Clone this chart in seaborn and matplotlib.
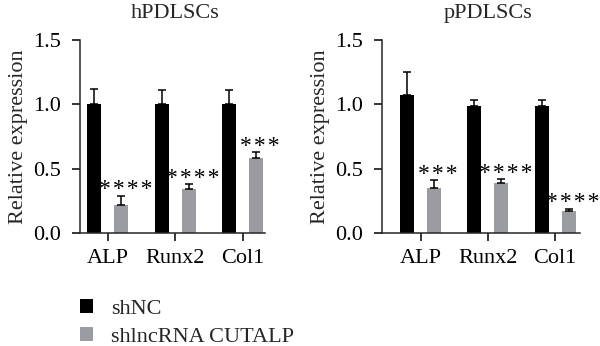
import numpy as np
import pandas as pd
import matplotlib
matplotlib.use("Agg")
import matplotlib.pyplot as plt
from matplotlib.container import BarContainer
import seaborn as sns

genes = ["ALP", "Runx2", "Col1"]
groups = ["shNC", "shlncRNA CUTALP"]

# hPDLSCs: means and upper SD
h_shnc = [1.00, 1.00, 1.00]
h_shnc_err = [0.12, 0.11, 0.11]
h_shlnc = [0.22, 0.34, 0.58]
h_shlnc_err = [0.07, 0.04, 0.05]
h_stars = ["****", "****", "***"]

# pPDLSCs: means and upper SD
p_shnc = [1.07, 0.99, 0.99]
p_shnc_err = [0.18, 0.04, 0.04]
p_shlnc = [0.35, 0.39, 0.17]
p_shlnc_err = [0.06, 0.03, 0.02]
p_stars = ["***", "****", "****"]

colors = ["#000000", "#9b9ca1"]

sns.set_theme(style="ticks")
plt.rcParams["font.family"] = ["Liberation Serif", "DejaVu Serif"]
plt.rcParams["axes.linewidth"] = 1.1

FS = 16

fig = plt.figure(figsize=(6.0, 3.46), dpi=100)
W, H = 600, 346


def make_axes(x0, x1, y0=233, y1=40):
    return fig.add_axes([x0 / W, (H - y0) / H, (x1 - x0) / W, (y0 - y1) / H])


def panel(ax, title, shnc, shnc_err, shlnc, shlnc_err, stars, xlim):
    df = pd.DataFrame({
        "gene": genes * 2,
        "group": [groups[0]] * 3 + [groups[1]] * 3,
        "value": list(shnc) + list(shlnc),
    })
    sns.barplot(data=df, x="gene", y="value", hue="group", order=genes,
                hue_order=groups, palette=colors, errorbar=None,
                width=0.8, gap=0.48, saturation=1, ax=ax, linewidth=0)
    errs = [shnc_err, shlnc_err]
    bar_conts = [c for c in ax.containers if isinstance(c, BarContainer)]
    for ci, cont in enumerate(bar_conts):
        bars = sorted(cont.patches, key=lambda b: b.get_x())
        xs = [b.get_x() + b.get_width() / 2 for b in bars]
        ys = [b.get_height() for b in bars]
        e = errs[ci]
        ax.errorbar(xs, ys, yerr=[np.zeros(len(e)), e], fmt="none",
                    ecolor="black", elinewidth=1.1, capsize=3,
                    capthick=1.1, zorder=1)
        if ci == 1:
            for x, y, err, s in zip(xs, ys, e, stars):
                ax.text(x + 0.06, y + err + 0.045, "\u200a".join(s),
                        ha="center", va="center", fontsize=17,
                        color="black")
    ax.set_ylim(0, 1.5)
    ax.set_xlim(*xlim)
    ax.set_yticks([0, 0.5, 1.0, 1.5])
    ax.set_yticklabels(["0.0", "0.5", "1.0", "1.5"])
    ax.set_xlabel("")
    ax.set_ylabel("Relative expression", fontsize=FS, labelpad=4)
    ax.set_title(title, fontsize=FS, pad=16,
                 x=(1 - xlim[0]) / (xlim[1] - xlim[0]))
    ax.tick_params(axis="both", labelsize=FS, length=5.5, width=1.1,
                   direction="out", colors="black")
    ax.tick_params(axis="y", pad=8)
    ax.tick_params(axis="x", pad=6)
    sns.despine(ax=ax)
    if ax.get_legend() is not None:
        ax.get_legend().remove()


ax1 = make_axes(80, 265)
panel(ax1, "hPDLSCs", h_shnc, h_shnc_err, h_shlnc, h_shlnc_err, h_stars,
      (-0.415, 2.33))
ax2 = make_axes(382, 580)
panel(ax2, "pPDLSCs", p_shnc, p_shnc_err, p_shlnc, p_shlnc_err, p_stars,
      (-0.576, 2.37))

handles, labels = ax1.get_legend_handles_labels()
if not handles:
    from matplotlib.patches import Patch
    handles = [Patch(color=c) for c in colors]
    labels = groups
fig.legend(handles, labels, loc="upper left",
           bbox_to_anchor=(80 / W, (H - 299) / H), frameon=False,
           fontsize=FS, handlelength=0.6, handleheight=0.6,
           handletextpad=0.8, labelspacing=0.38, borderaxespad=0,
           borderpad=0)

fig.savefig("out.png", dpi=100)
